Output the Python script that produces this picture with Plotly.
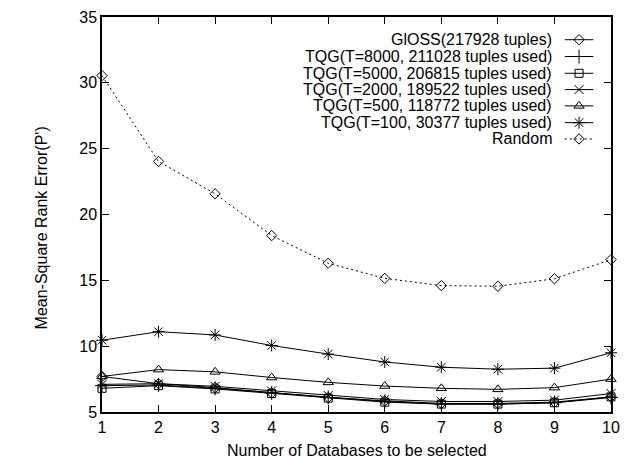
import plotly.graph_objects as go

x_vals = [1, 2, 3, 4, 5, 6, 7, 8, 9, 10]

gloss = [7.7, 7.15, 6.85, 6.45, 6.1, 5.85, 5.65, 5.65, 5.75, 6.15]
tqg8000 = [7.0, 7.05, 6.8, 6.45, 6.1, 5.8, 5.6, 5.6, 5.7, 6.1]
tqg5000 = [6.8, 7.0, 6.75, 6.4, 6.05, 5.75, 5.6, 5.6, 5.7, 6.15]
tqg2000 = [7.1, 7.15, 6.95, 6.6, 6.25, 5.95, 5.8, 5.8, 5.9, 6.4]
tqg500 = [7.7, 8.22, 8.05, 7.62, 7.25, 6.97, 6.8, 6.72, 6.85, 7.5]
tqg100 = [10.45, 11.1, 10.85, 10.05, 9.4, 8.8, 8.4, 8.25, 8.33, 9.5]
random_sel = [30.55, 24.03, 21.57, 18.4, 16.3, 15.15, 14.6, 14.55, 15.12, 16.57]

names = [
    "GlOSS(217928 tuples)",
    "TQG(T=8000, 211028 tuples used)",
    "TQG(T=5000, 206815 tuples used)",
    "TQG(T=2000, 189522 tuples used)",
    "TQG(T=500, 118772 tuples used)",
    "TQG(T=100, 30377 tuples used)",
    "Random",
]
series = [gloss, tqg8000, tqg5000, tqg2000, tqg500, tqg100, random_sel]
symbols = ["diamond-open", "cross-thin", "square-open", "x-thin",
           "triangle-up-open", "asterisk", "diamond-open"]
sizes = [8, 10, 8, 9, 9, 10, 8]
dashes = ["solid"] * 6 + ["2px,3px"]

y_tick_vals = [5, 10, 15, 20, 25, 30, 35]
x_tick_vals = [1, 2, 3, 4, 5, 6, 7, 8, 9, 10]

FONT = "Liberation Sans, Arial, sans-serif"

fig = go.Figure()

for name, ys, sym, sz, dsh in zip(names, series, symbols, sizes, dashes):
    fig.add_trace(go.Scatter(
        x=x_vals, y=ys, mode="lines+markers", name=name,
        line=dict(color="black", width=1, dash=dsh),
        marker=dict(symbol=sym, size=sz, color="black",
                    line=dict(color="black", width=1)),
        showlegend=False, cliponaxis=False,
    ))

# Custom gnuplot-style legend (text right-aligned, sample to the right)
W, H = 629, 460
L, R, T, B = 102, 9, 12, 48
pw, ph = W - L - R, H - T - B
row_y = [35, 52, 69, 85.5, 102, 119, 135.5]
text_right = 562
samp_x0, samp_x1 = 573, 602
for i, (name, sym, sz, dsh) in enumerate(zip(names, symbols, sizes, dashes)):
    yy = row_y[i]
    fig.add_annotation(
        x=(text_right - L) / pw, y=1 - (yy - T) / ph, xref="paper", yref="paper",
        text=name, showarrow=False, xanchor="right", yanchor="middle",
        font=dict(family=FONT, size=16, color="black"),
    )
    fig.add_trace(go.Scatter(
        x=[samp_x0, samp_x1], y=[yy, yy], xaxis="x2", yaxis="y2",
        mode="lines", line=dict(color="black", width=1, dash=dsh),
        showlegend=False, hoverinfo="skip",
    ))
    fig.add_trace(go.Scatter(
        x=[(samp_x0 + samp_x1) / 2], y=[yy], xaxis="x2", yaxis="y2",
        mode="markers",
        marker=dict(symbol=sym, size=sz, color="black",
                    line=dict(color="black", width=1)),
        showlegend=False, hoverinfo="skip",
    ))

fig.add_annotation(
    x=(40 - L) / pw, y=1 - (226 - T) / ph, xref="paper", yref="paper",
    text="Mean-Square Rank Error(P')", textangle=-90, showarrow=False,
    xanchor="center", yanchor="middle",
    font=dict(family=FONT, size=16, color="black"),
)
fig.add_annotation(
    x=0.5, y=1 - (451 - T) / ph, xref="paper", yref="paper",
    text="Number of Databases to be selected", showarrow=False,
    xanchor="center", yanchor="middle",
    font=dict(family=FONT, size=16, color="black"),
)

axis_common = dict(
    showline=True, linecolor="black", linewidth=1.5, mirror="ticks",
    ticks="inside", ticklen=7, tickcolor="black", tickwidth=1,
    showgrid=False, zeroline=False,
    tickfont=dict(family=FONT, size=16, color="black"),
)

fig.update_layout(
    width=W, height=H,
    margin=dict(l=L, r=R, t=T, b=B),
    paper_bgcolor="white", plot_bgcolor="white",
    xaxis=dict(range=[1, 10], tickvals=x_tick_vals, **axis_common),
    yaxis=dict(range=[5, 35], tickvals=y_tick_vals, **axis_common),
    xaxis2=dict(range=[L, W - R], domain=[0, 1], overlaying="x", visible=False,
                anchor="y2", fixedrange=True),
    yaxis2=dict(range=[H - B, T], domain=[0, 1], overlaying="y", visible=False,
                anchor="x2", fixedrange=True),
)

fig.write_html("out.html")
